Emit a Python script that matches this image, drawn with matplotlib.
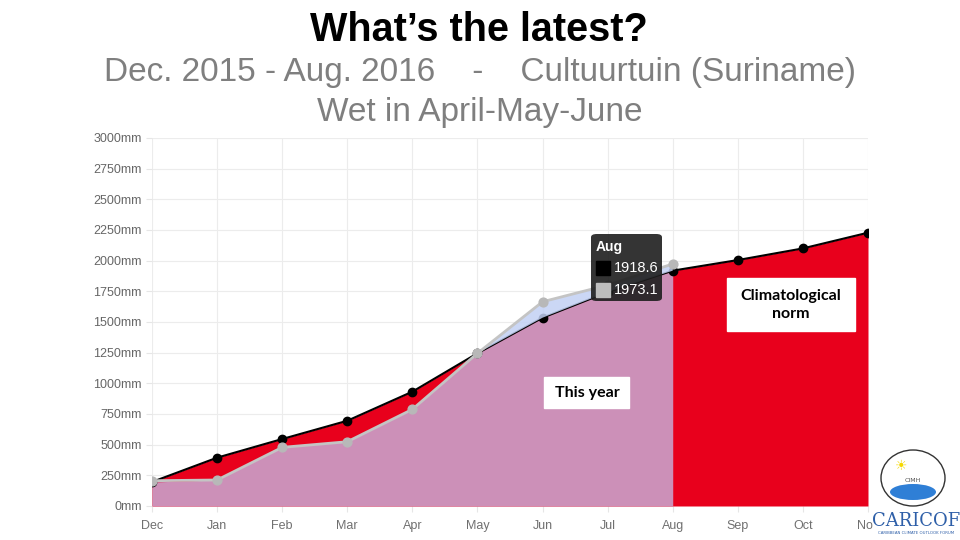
import numpy as np
import matplotlib
matplotlib.use("Agg")
import matplotlib.pyplot as plt
from matplotlib.patches import FancyBboxPatch, Ellipse, Rectangle

# data
months = ["Dec", "Jan", "Feb", "Mar", "Apr", "May", "Jun", "Jul", "Aug", "Sep", "Oct", "Nov"]
norm_mm = [196, 394, 546, 695, 932, 1245, 1535, 1744, 1918.6, 2005, 2100, 2228]
this_year_mm = [206, 212, 478, 524, 788, 1245, 1665, 1801, 1973.1]
y_ticks = [0, 250, 500, 750, 1000, 1250, 1500, 1750, 2000, 2250, 2500, 2750, 3000]

RED = "#e8001c"
PINK = "#cc90b8"
BLUE = "#c2d0f4"
GREY_LINE = "#c4c4c4"

fig = plt.figure(figsize=(9.6, 5.4), dpi=100)
ax = fig.add_axes([152 / 960, 1 - 506 / 540, 716 / 960, 368 / 540])

x_all = np.arange(len(months))
x_ty = np.arange(len(this_year_mm))
norm = np.array(norm_mm)
ty = np.array(this_year_mm)
norm_part = norm[:len(ty)]

# areas
ax.fill_between(x_all, 0, norm, color=RED, lw=0, zorder=1)
ax.fill_between(x_ty, 0, np.minimum(ty, norm_part), color=PINK, lw=0, zorder=2)

# norm line + markers
ax.plot(x_all, norm, color="black", lw=1.5, zorder=3)
ax.scatter(x_all, norm, s=36, color="black", zorder=4)

# wet part (this year above norm) covers the norm line
ax.fill_between(x_ty, norm_part, ty, where=ty >= norm_part, interpolate=True,
                color=BLUE, alpha=0.85, lw=0, zorder=5)

# this year line
ax.plot(x_ty, ty, color=GREY_LINE, lw=2, zorder=6)
ax.scatter(x_ty, ty, s=40, color="#b8b8b8", zorder=7)

ax.set_xlim(0, 11)
ax.set_ylim(0, 3000)
ax.set_xticks(x_all)
ax.set_xticklabels(months)
ax.set_yticks(y_ticks)
ax.set_yticklabels([f"{v}mm" for v in y_ticks])
ax.tick_params(colors="#e6e6e6", labelcolor="#666666", labelsize=9, length=4)
ax.tick_params(axis="x", pad=6, labelcolor="#707070")
ax.grid(True, color="#ececec", lw=0.8)
ax.set_axisbelow(True)
for s in ax.spines.values():
    s.set_visible(False)
for lab in ax.get_xticklabels() + ax.get_yticklabels():
    lab.set_family("Liberation Sans")

# tooltip
tip = FancyBboxPatch((591 / 960, 1 - 301 / 540), 71 / 960, 67 / 540,
                     boxstyle="round,pad=0,rounding_size=0.006",
                     transform=fig.transFigure, facecolor="#1e1e1e", alpha=0.9,
                     edgecolor="none", zorder=10)
fig.patches.append(tip)
fig.text(596 / 960, 1 - 247 / 540, "Aug", color="white", fontsize=10, weight="bold",
         va="center", family="Liberation Sans", zorder=12)
fig.patches.append(Rectangle((596 / 960, 1 - 275 / 540), 14 / 960, 14 / 540,
                             transform=fig.transFigure, color="black", zorder=11))
fig.patches.append(Rectangle((596 / 960, 1 - 297 / 540), 14 / 960, 14 / 540,
                             transform=fig.transFigure, color="#bdbdbd", zorder=11))
fig.text(614 / 960, 1 - 268 / 540, f"{norm_mm[8]}", color="white", fontsize=10.5,
         va="center", family="Liberation Sans", zorder=12)
fig.text(614 / 960, 1 - 290 / 540, f"{this_year_mm[8]}", color="white", fontsize=10.5,
         va="center", family="Liberation Sans", zorder=12)

# labels
fig.patches.append(Rectangle((727 / 960, 1 - 331 / 540), 128 / 960, 53 / 540,
                             transform=fig.transFigure, color="white", zorder=11))
fig.text(791 / 960, 1 - 305 / 540, "Climatological\nnorm", ha="center", va="center",
         fontsize=11.5, weight="bold", family="Lato", linespacing=1.4, zorder=12)
fig.patches.append(Rectangle((544 / 960, 1 - 408 / 540), 85 / 960, 31 / 540,
                             transform=fig.transFigure, color="white", zorder=11))
fig.text(587 / 960, 1 - 393 / 540, "This year", ha="center", va="center",
         fontsize=11.5, weight="bold", family="Lato", zorder=12)

# titles
fig.text(479 / 960, 1 - 30 / 540, "What\u2019s the latest?", ha="center", va="center",
         fontsize=28.5, weight="bold", family="Liberation Sans")
fig.text(480 / 960, 1 - 73 / 540, "Dec. 2015 - Aug. 2016    -    Cultuurtuin (Suriname)",
         ha="center", va="center", fontsize=24, color="#7f7f7f", family="Liberation Sans")
fig.text(480 / 960, 1 - 112 / 540, "Wet in April-May-June", ha="center", va="center",
         fontsize=24, color="#7f7f7f", family="Liberation Sans")

# logo (simplified)
fig.patches.append(Rectangle((873 / 960, 0), 87 / 960, 30 / 540,
                             transform=fig.transFigure, color="white", zorder=12))
fig.patches.append(Ellipse((913 / 960, 1 - 478 / 540), 64 / 960, 56 / 540,
                           transform=fig.transFigure, facecolor="white",
                           edgecolor="#333333", lw=1, zorder=12))
fig.patches.append(Ellipse((913 / 960, 1 - 492 / 540), 46 / 960, 16 / 540,
                           transform=fig.transFigure, facecolor="#2f7fd6",
                           edgecolor="none", zorder=13))
fig.text(901 / 960, 1 - 466 / 540, "\u2600", color="#f5d800", fontsize=10,
         ha="center", va="center", family="DejaVu Sans", zorder=14)
fig.text(913 / 960, 1 - 480 / 540, "CIMH", color="#555555", fontsize=4.5,
         ha="center", va="center", family="DejaVu Sans", zorder=14)
fig.text(916 / 960, 1 - 521 / 540, "CARICOF", color="#2e5fa8", fontsize=13,
         ha="center", va="center", family="DejaVu Serif", zorder=14)
fig.text(916 / 960, 1 - 533 / 540, "CARIBBEAN CLIMATE OUTLOOK FORUM", color="#2e5fa8",
         fontsize=2.8, ha="center", va="center", family="DejaVu Sans", zorder=14)

fig.savefig("out.png", dpi=100, facecolor="white")
